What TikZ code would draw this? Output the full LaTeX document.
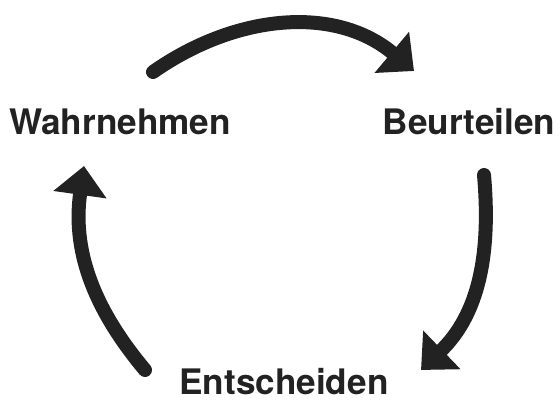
\documentclass[tikz,border=0pt]{standalone}
\usepackage{fontspec}
\newfontfamily\labelfont{TeX Gyre Heros}
\usetikzlibrary{arrows.meta}
\definecolor{arrowgray}{HTML}{222222}

\begin{document}
\begin{tikzpicture}[
    x=0.02cm, y=0.02cm,
    step label/.style={font=\labelfont\bfseries\fontsize{20}{24}\selectfont,
                       text=arrowgray, inner sep=0pt, anchor=base},
    cycle arrow/.style={draw=arrowgray, line width=0.28cm, line cap=round,
                        -{Triangle[length=0.58cm, width=1.04cm]}}
  ]
  \useasboundingbox (0,0) rectangle (560,401);

  % Labels
  \node[step label] (wahr) at (120,266) {Wahrnehmen};
  \node[step label] (beur) at (469,266) {Beurteilen};
  \node[step label] (ents) at (284,6) {Entscheiden};

  % Arrow ends
  \coordinate (top start) at (153,329);
  \coordinate (top end) at (414,330);
  \coordinate (right start) at (484,226);
  \coordinate (right end) at (421,31);
  \coordinate (left start) at (145,31);
  \coordinate (left end) at (84,235);

  % Arrows
  \draw[cycle arrow] (top start) to[out=35, in=140] (top end);
  \draw[cycle arrow] (right start) to[out=-85, in=44] (right end);
  \draw[cycle arrow] (left start) to[out=130, in=-98] (left end);
\end{tikzpicture}
\end{document}
